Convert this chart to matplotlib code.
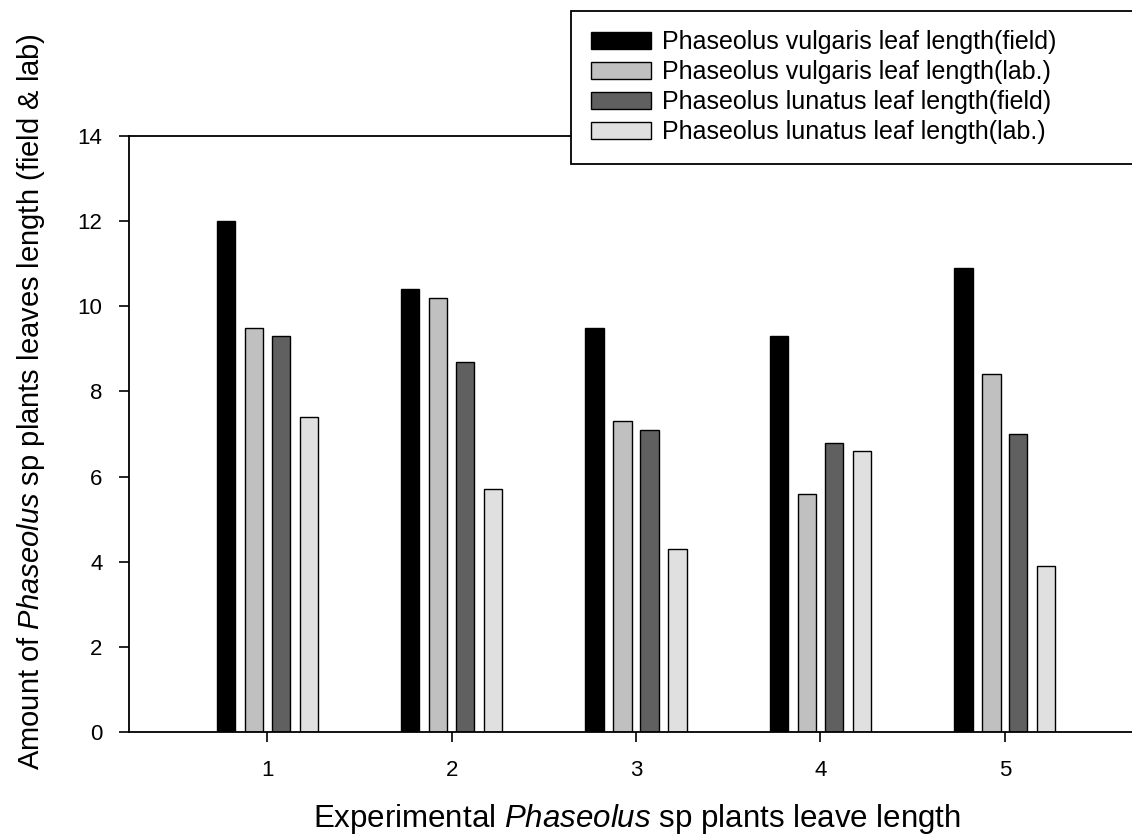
import numpy as np
import matplotlib
matplotlib.use("Agg")
import matplotlib.pyplot as plt

plt.rcParams['font.family'] = ['Liberation Sans', 'DejaVu Sans']
plt.rcParams['mathtext.fontset'] = 'custom'
plt.rcParams['mathtext.rm'] = 'Liberation Sans'
plt.rcParams['mathtext.it'] = 'Liberation Sans:italic'

groups = [1, 2, 3, 4, 5]
pv_field = [12.0, 10.4, 9.5, 9.3, 10.9]
pv_lab = [9.5, 10.2, 7.3, 5.6, 8.4]
pl_field = [9.3, 8.7, 7.1, 6.8, 7.0]
pl_lab = [7.4, 5.7, 4.3, 6.6, 3.9]

names = ["Phaseolus vulgaris leaf length(field)",
         "Phaseolus vulgaris leaf length(lab.)",
         "Phaseolus lunatus leaf length(field)",
         "Phaseolus lunatus leaf length(lab.)"]
colors = ["#000000", "#c0c0c0", "#606060", "#e0e0e0"]

fig = plt.figure(figsize=(11.32, 8.38), dpi=100)
ax = fig.add_axes([129/1132, 1-732/838, 1-129/1132, (732-136)/838])

x = np.array(groups, dtype=float)
offsets = [-0.225, -0.073, 0.073, 0.225]
series = [pv_field, pv_lab, pl_field, pl_lab]
for s, off, c, n in zip(series, offsets, colors, names):
    ax.bar(x + off, s, width=0.1, color=c, edgecolor="black", linewidth=1.0, label=n)

ax.set_xlim(0.25, 5.69)
ax.set_ylim(0, 14)
ax.set_xticks(groups)
ax.set_yticks(range(0, 15, 2))
ax.tick_params(axis='both', direction='out', length=7, width=1.2, labelsize=16)
ax.tick_params(axis='y', pad=12)
ax.tick_params(axis='x', pad=13)
ax.spines['right'].set_visible(False)
for sp in ['left', 'bottom', 'top']:
    ax.spines[sp].set_linewidth(1.3)

# axis titles placed in figure pixels
fig.text(637/1132, 1-827/838, r"Experimental $\mathit{Phaseolus}$ sp plants leave length",
         fontsize=22.5, ha='center', va='baseline')
fig.text(31/1132, 1-402/838, r"Amount of $\mathit{Phaseolus}$ sp plants leaves length (field & lab)",
         fontsize=21, rotation=90, ha='center', va='center')

leg = fig.legend(loc='upper left', bbox_to_anchor=(571/1132, 0, 0.55, 1-11/838),
                 mode='expand', borderaxespad=0, fontsize=18, frameon=True, fancybox=False,
                 handlelength=2.4, handleheight=0.64, handletextpad=0.45,
                 labelspacing=0.24, borderpad=0.78)
leg.get_frame().set_edgecolor("black")
leg.get_frame().set_linewidth(1.3)
leg.get_frame().set_alpha(1)

fig.savefig("out.png", dpi=100)
